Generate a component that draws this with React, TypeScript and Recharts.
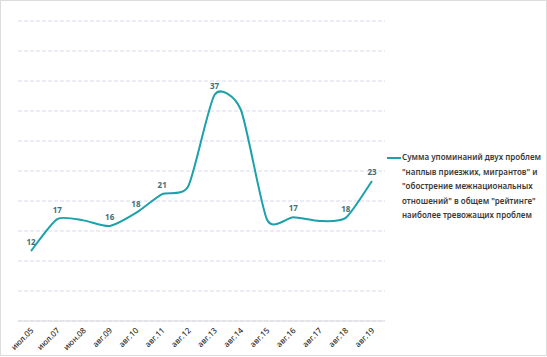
import React from "react";
import { LineChart, Line, XAxis, YAxis, CartesianGrid, Legend, LabelList } from "recharts";

const categories = ["июл.05", "июл.07", "июн.08", "авг.09", "авг.10", "авг.11", "авг.12", "авг.13", "авг.14", "авг.15", "авг.16", "авг.17", "авг.18", "авг.19"];
const values = [12.2, 17.3, 17.1, 16.2, 18.3, 21.3, 22.6, 37.2, 34.8, 17.2, 17.6, 17.0, 17.5, 23.4];
const pointLabels = ["12", "17", "", "16", "18", "21", "", "37", "", "", "17", "", "18", "23"];
const yTicks = [1, 5.8, 10.6, 15.4, 20.2, 25, 29.8, 34.6, 39.4, 44.2, 49];
const seriesName = [
  "Сумма упоминаний двух проблем",
  "\"наплыв приезжих, мигрантов\" и",
  "\"обострение межнациональных",
  "отношений\" в общем \"рейтинге\"",
  "наиболее тревожащих проблем",
];

const data = categories.map((c, i) => ({ cat: c, v: values[i], lbl: pointLabels[i] }));

const LINE = "#1ba1a9";
const FONT = "'Noto Sans', sans-serif";

const excelSmooth = (context: any) => {
  let pts: number[][] = [];
  return {
    areaStart() {},
    areaEnd() {},
    lineStart() {
      pts = [];
    },
    point(x: number, y: number) {
      pts.push([+x, +y]);
    },
    lineEnd() {
      const n = pts.length;
      if (!n) return;
      context.moveTo(pts[0][0], pts[0][1]);
      const t = 1 / 9;
      for (let i = 0; i < n - 1; i++) {
        const p0 = pts[Math.max(0, i - 1)];
        const p1 = pts[i];
        const p2 = pts[i + 1];
        const p3 = pts[Math.min(n - 1, i + 2)];
        context.bezierCurveTo(
          p1[0] + (p2[0] - p0[0]) * t,
          p1[1] + (p2[1] - p0[1]) * t,
          p2[0] - (p3[0] - p1[0]) * t,
          p2[1] - (p3[1] - p1[1]) * t,
          p2[0],
          p2[1]
        );
      }
    },
  };
};

const Tick = (props: any) => {
  const { x, y, payload } = props;
  return (
    <g transform={`translate(${x + 1},${y})`}>
      <text
        x={0}
        y={0}
        dy="0.35em"
        textAnchor="end"
        transform="rotate(-45)"
        fontSize={8}
        fontWeight={500}
        fontFamily={FONT}
        fill="#2e2e2e"
      >
        {payload.value}
      </text>
    </g>
  );
};

const PointLabel = (props: any) => {
  const { x, y, value } = props;
  if (!value) return null;
  return (
    <text x={x} y={y - 9} dy="0.35em" textAnchor="middle" fontSize={8} fontWeight={700} fontFamily={FONT} fill="#3d7078">
      {value}
    </text>
  );
};

const LegendContent = () => (
  <div style={{ position: "relative", fontFamily: FONT, fontSize: 8, fontWeight: 600, color: "#3a3a3a", lineHeight: "14.5px", textAlign: "left" }}>
    <div style={{ position: "absolute", left: 0, top: 6.5, width: 14, height: 2, background: LINE }} />
    <div style={{ marginLeft: 15, whiteSpace: "nowrap" }}>
      {seriesName.map((s, i) => (
        <div key={i}>{s}</div>
      ))}
    </div>
  </div>
);

export default function App() {
  return (
    <div style={{ position: "absolute", left: 0, top: 0, width: 547, height: 357, background: "#fff" }}>
      <div style={{ position: "absolute", left: 0, top: 0, width: 547, height: 356, border: "1px solid #dcdcdc", boxSizing: "border-box" }} />
      <LineChart width={547} height={357} data={data} margin={{ top: 21, right: 162, bottom: 0, left: 18 }}>
        <CartesianGrid vertical={false} stroke="#d9d9ef" strokeDasharray="4 2" />
        <XAxis
          dataKey="cat"
          padding={{ left: 13, right: 13 }}
          height={36}
          axisLine={{ stroke: "#d9d9d9" }}
          tickLine={false}
          tick={<Tick />}
          tickMargin={2}
          interval={0}
        />
        <YAxis hide domain={[1, 49]} ticks={yTicks} />
        <Legend
          verticalAlign="middle"
          align="center"
          layout="horizontal"
          wrapperStyle={{ left: 387, top: 150, width: 160, right: "auto", bottom: "auto" }}
          content={<LegendContent />}
        />
        <Line
          dataKey="v"
          name={seriesName.join(" ")}
          type={excelSmooth as any}
          stroke={LINE}
          strokeWidth={2}
          dot={false}
          activeDot={false}
          isAnimationActive={false}
        >
          <LabelList dataKey="lbl" content={<PointLabel />} />
        </Line>
      </LineChart>
    </div>
  );
}
